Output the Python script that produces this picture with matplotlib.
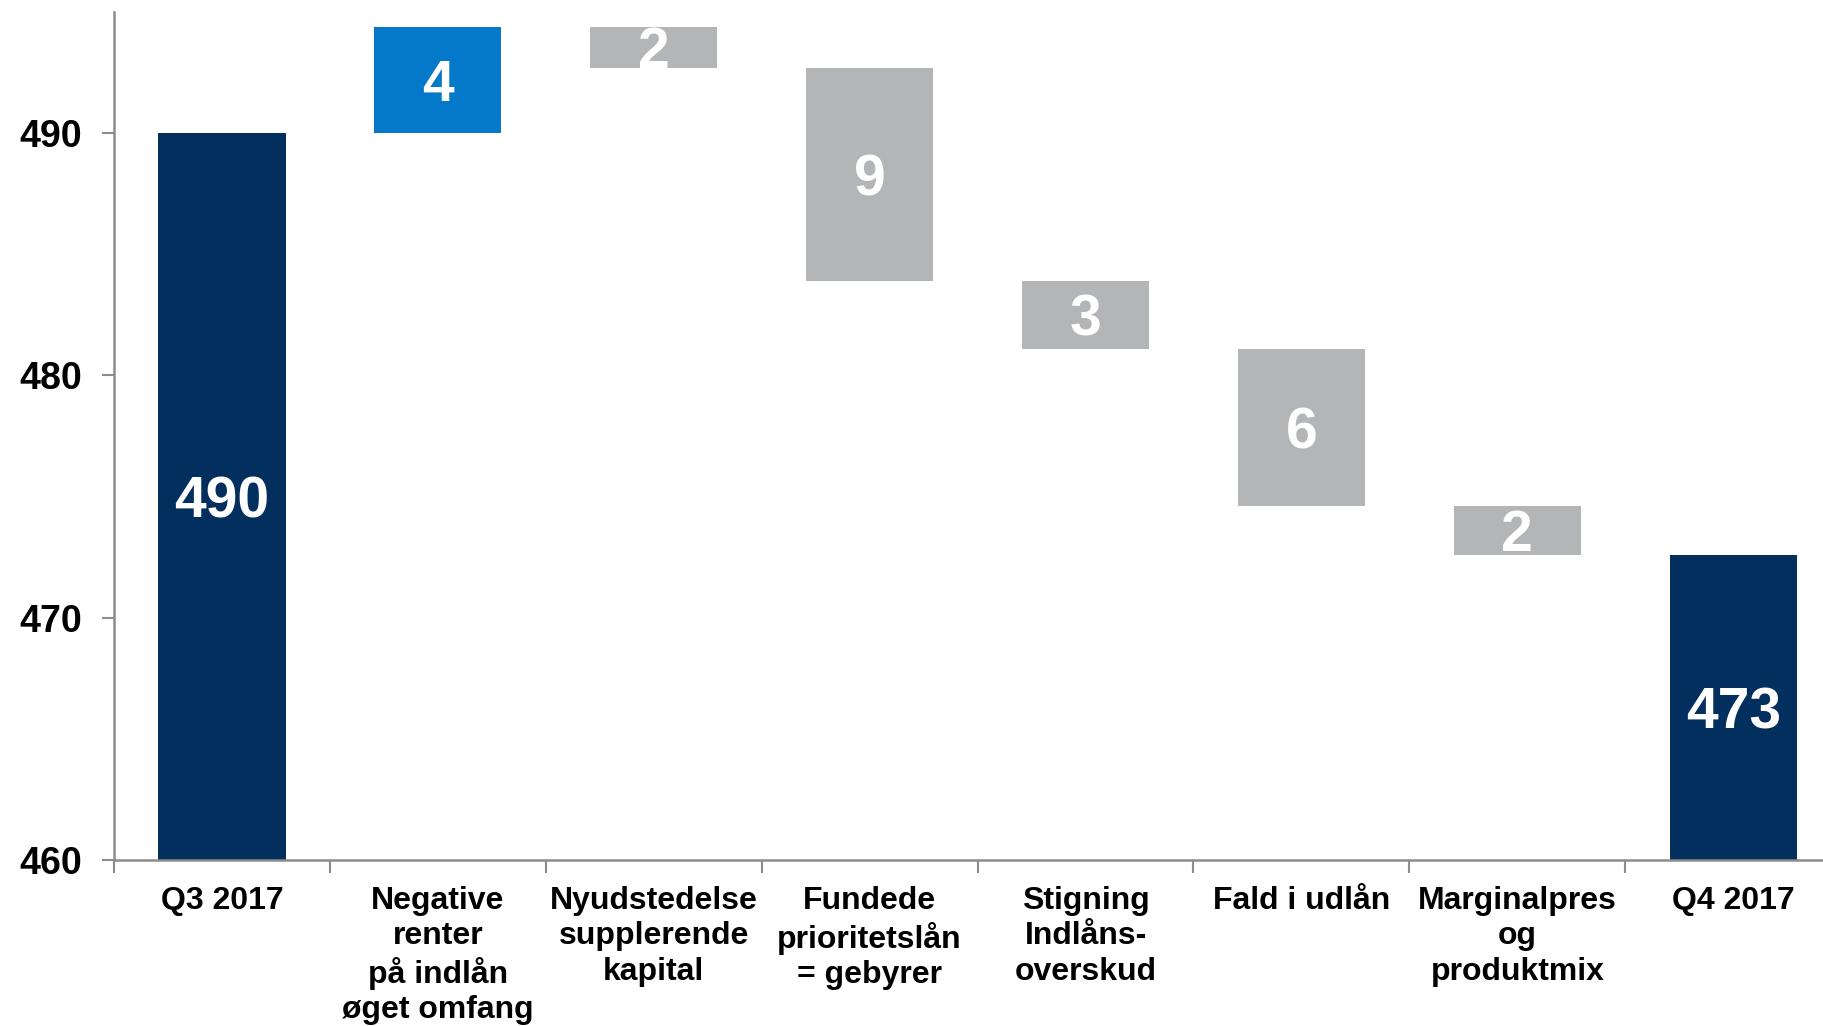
import numpy as np
import matplotlib
matplotlib.use("Agg")
import matplotlib.pyplot as plt

plt.rcParams['font.family'] = ['Liberation Sans', 'DejaVu Sans']
plt.rcParams['font.weight'] = 'bold'

# data
categories = ["Q3 2017", "Negative\nrenter\npå indlån\nøget omfang", "Nyudstedelse\nsupplerende\nkapital",
              "Fundede\nprioritetslån\n= gebyrer", "Stigning\nIndlåns-\noverskud", "Fald i udlån",
              "Marginalpres\nog\nproduktmix", "Q4 2017"]
start_value = 490.0
changes = [4.4, -1.7, -8.8, -2.8, -6.5, -2.0]
yticks = [460, 470, 480, 490]

navy = "#022F5E"
blue = "#0479C9"
grey = "#B4B5B7"

# build waterfall pieces
levels = start_value + np.concatenate([[0], np.cumsum(changes)])
end_value = levels[-1]
bottoms = [460] + [min(levels[i], levels[i + 1]) for i in range(len(changes))] + [460]
heights = [start_value - 460] + [abs(c) for c in changes] + [end_value - 460]
colors = [navy] + [blue if c > 0 else grey for c in changes] + [navy]
labels = [f"{start_value:.0f}"] + [f"{abs(c):.0f}" for c in changes] + [f"{end_value:.0f}"]

fig = plt.figure(figsize=(18.23, 10.26), dpi=100)
ax = fig.add_axes([0.0625, 0.1618, 0.9475, 0.8265])

x = np.arange(len(categories)) + 0.5
ax.bar(x, heights, bottom=bottoms, width=0.59, color=colors, zorder=2)

for xi, b, h, lab in zip(x, bottoms, heights, labels):
    ax.text(xi, b + h / 2, lab, ha='center', va='center_baseline', color='white',
            fontsize=41, fontweight='bold', zorder=3)

ax.set_xlim(0, len(categories))
ax.set_ylim(460, 495)
ax.set_yticks(yticks)
ax.set_yticklabels([str(t) for t in yticks], fontsize=27, fontweight='bold')
ax.set_xticks(np.arange(len(categories) + 1), minor=False)
ax.set_xticklabels([])
ax.set_xticks(x, minor=True)
ax.set_xticklabels(categories, minor=True, fontsize=23, fontweight='bold', linespacing=1.22)
ax.tick_params(axis='x', which='minor', length=0, pad=19)
ax.tick_params(axis='x', which='major', length=9, width=1.5, color='#8c8c8c')
ax.tick_params(axis='y', length=9, width=1.5, color='#8c8c8c', pad=14)

for s in ['top', 'right']:
    ax.spines[s].set_visible(False)
for s in ['left', 'bottom']:
    ax.spines[s].set_color('#8c8c8c')
    ax.spines[s].set_linewidth(1.8)

fig.savefig("out.png", dpi=100)
